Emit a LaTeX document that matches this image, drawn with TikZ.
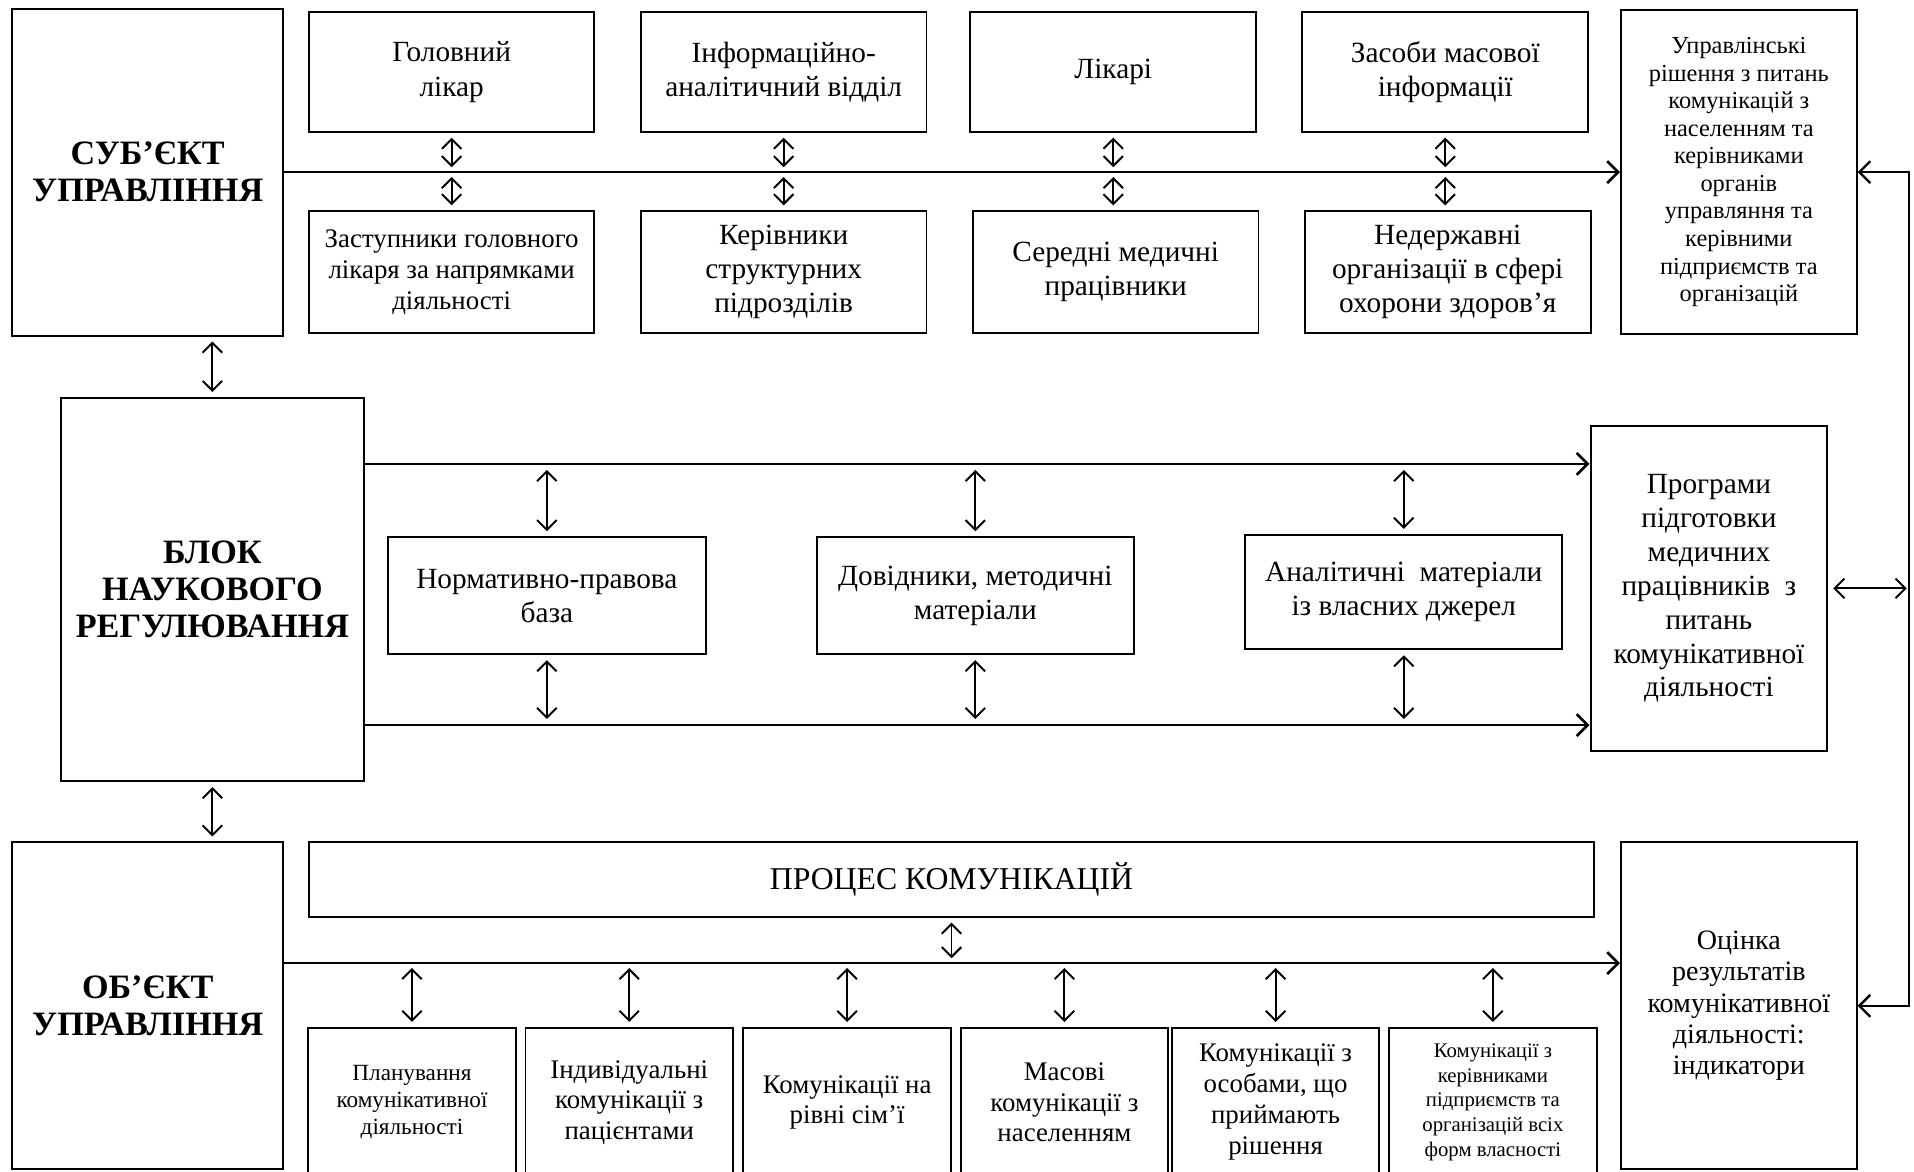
\documentclass[tikz,border=0pt]{standalone}
\usepackage{fontspec}
\setmainfont{Liberation Serif}
\usepackage{tikz}
\usetikzlibrary{arrows.meta}

\tikzset{
  blk/.style={draw, line width=0.8pt, inner sep=0pt, align=center,
              font=\fontsize{12}{14}\selectfont},
  bigtxt/.style={font=\fontsize{14}{15.2}\selectfont\bfseries},
  mainln/.style={line width=1.1pt, -{Straight Barb[length=4.5pt,width=9pt]}},
  dbl/.style={line width=0.8pt, {Straight Barb[length=4pt,width=8pt]}-{Straight Barb[length=4pt,width=8pt]},
              shorten <=2pt, shorten >=2pt},
}

\begin{document}
\begin{tikzpicture}[x=0.5pt,y=-0.5pt]
\clip (0,0) rectangle (1568,960);

% subject of management
\node[blk, bigtxt, minimum width=111pt, minimum height=134pt] (subj) at (121,141)
  {СУБ’ЄКТ\\УПРАВЛІННЯ};
\node[blk, minimum width=117pt, minimum height=49pt] (golov) at (370,59)
  {Головний\\лікар};
\node[blk, minimum width=117pt, minimum height=50pt,
      font=\fontsize{11}{12.7}\selectfont] (zast) at (370,223)
  {Заступники головного\\лікаря за напрямками\\діяльності};
\node[blk, minimum width=117pt, minimum height=49pt] (info) at (642,59)
  {Інформаційно-\\аналітичний відділ};
\node[blk, minimum width=117pt, minimum height=50pt] (kerivn) at (642,223)
  {Керівники\\структурних\\підрозділів};
\node[blk, minimum width=117pt, minimum height=49pt] (likari) at (912,59)
  {Лікарі};
\node[blk, minimum width=117pt, minimum height=50pt] (seredni) at (914,223)
  {Середні медичні\\працівники};
\node[blk, minimum width=117pt, minimum height=49pt] (zasoby) at (1184,59)
  {Засоби масової\\інформації};
\node[blk, minimum width=117pt, minimum height=50pt] (nederzh) at (1186,223)
  {Недержавні\\організації в сфері\\охорони здоров’я};
\node[blk, minimum width=96.5pt, minimum height=133pt,
      font=\fontsize{10}{11.3}\selectfont] (uprav) at (1424.5,141)
  {Управлінські\\рішення з питань\\комунікацій з\\населенням та\\керівниками\\органів\\управляння та\\керівними\\підприємств та\\організацій};

% scientific regulation block
\node[blk, bigtxt, minimum width=124pt, minimum height=157pt] (blok) at (174,483)
  {БЛОК\\НАУКОВОГО\\РЕГУЛЮВАННЯ};
\node[blk, minimum width=130pt, minimum height=48pt] (norm) at (448,488)
  {Нормативно-правова\\база};
\node[blk, minimum width=130pt, minimum height=48pt] (dovid) at (799,488)
  {Довідники, методичні\\матеріали};
\node[blk, minimum width=130pt, minimum height=47pt] (anal) at (1150,485)
  {Аналітичні~~матеріали\\із власних джерел};
\node[blk, minimum width=97pt, minimum height=133pt,
      font=\fontsize{12}{13.9}\selectfont] (progr) at (1400,482)
  {Програми\\підготовки\\медичних\\працівників~~з\\питань\\комунікативної\\діяльності};

% object of management
\node[blk, bigtxt, minimum width=111pt, minimum height=134pt] (obj) at (121,824)
  {ОБ’ЄКТ\\УПРАВЛІННЯ};
\node[blk, minimum width=526.5pt, minimum height=30.5pt,
      font=\fontsize{13}{15}\selectfont] (proces) at (779.5,720.5)
  {ПРОЦЕС КОМУНІКАЦІЙ};
\node[blk, minimum width=96.5pt, minimum height=134pt,
      font=\fontsize{11.5}{12.8}\selectfont] (ocinka) at (1424.5,824)
  {Оцінка\\результатів\\комунікативної\\діяльності:\\індикатори};
\node[blk, minimum width=85pt, minimum height=61pt,
      font=\fontsize{9.5}{11}\selectfont] (plan) at (337.5,903)
  {Планування\\комунікативної\\діяльності};
\node[blk, minimum width=85pt, minimum height=61pt,
      font=\fontsize{11}{12.5}\selectfont] (indiv) at (515.5,903)
  {Індивідуальні\\комунікації з\\пацієнтами};
\node[blk, minimum width=85pt, minimum height=61pt,
      font=\fontsize{11}{12.5}\selectfont] (simja) at (694,903)
  {Комунікації на\\рівні сім’ї};
\node[blk, minimum width=85pt, minimum height=61pt,
      font=\fontsize{11}{12.5}\selectfont] (masovi) at (872,903)
  {Масові\\комунікації з\\населенням};
\node[blk, minimum width=85pt, minimum height=61pt,
      font=\fontsize{11}{12.7}\selectfont] (osoby) at (1045,903)
  {Комунікації з\\особами, що\\приймають\\рішення};
\node[blk, minimum width=85pt, minimum height=61pt,
      font=\fontsize{8.5}{10.2}\selectfont] (pidpr) at (1223,903)
  {Комунікації з\\керівниками\\підприємств та\\організацій всіх\\форм власності};

% free ends of the long lines
\coordinate (b1) at (298,380);
\coordinate (b2) at (298,594);
\coordinate (o1) at (232,789);
\coordinate (rt) at (1564,141);

% main lines
\draw[mainln] (subj.east) -- (uprav.west);
\draw[mainln] (b1) -- (b1 -| progr.west);
\draw[mainln] (b2) -- (b2 -| progr.west);
\draw[mainln] (o1) -- (o1 -| ocinka.west);
\draw[mainln, line width=1pt, {Straight Barb[length=4.5pt,width=9pt]}-{Straight Barb[length=4.5pt,width=9pt]}]
  (uprav.east) -- (rt) |- (ocinka.east);

% links of the subject block
\draw[dbl] (golov.south) -- (golov.south |- subj.east);
\draw[dbl] (golov.south |- subj.east) -- (zast.north);
\draw[dbl] (info.south) -- (info.south |- subj.east);
\draw[dbl] (info.south |- subj.east) -- (kerivn.north);
\draw[dbl] (likari.south) -- (likari.south |- subj.east);
\draw[dbl] (likari.south |- subj.east) -- (likari.south |- seredni.north);
\draw[dbl] (zasoby.south) -- (zasoby.south |- subj.east);
\draw[dbl] (zasoby.south |- subj.east) -- (zasoby.south |- nederzh.north);

% links between the three blocks
\draw[dbl] (blok.north |- subj.south) -- (blok.north);
\draw[dbl] (blok.south) -- (blok.south |- obj.north);
\draw[dbl, shorten >=1pt] (progr.east) -- (progr.east -| rt);

% links of the regulation block
\draw[dbl, shorten <=2.5pt] (norm.north |- b1) -- (norm.north);
\draw[dbl, shorten >=2.5pt] (norm.south) -- (norm.south |- b2);
\draw[dbl, shorten <=2.5pt] (dovid.north |- b1) -- (dovid.north);
\draw[dbl, shorten >=2.5pt] (dovid.south) -- (dovid.south |- b2);
\draw[dbl, shorten <=2.5pt] (anal.north |- b1) -- (anal.north);
\draw[dbl, shorten >=2.5pt] (anal.south) -- (anal.south |- b2);

% links of the object block
\draw[dbl] (proces.south) -- (proces.south |- o1);
\draw[dbl] (plan.north |- o1) -- (plan.north);
\draw[dbl] (indiv.north |- o1) -- (indiv.north);
\draw[dbl] (simja.north |- o1) -- (simja.north);
\draw[dbl] (masovi.north |- o1) -- (masovi.north);
\draw[dbl] (osoby.north |- o1) -- (osoby.north);
\draw[dbl] (pidpr.north |- o1) -- (pidpr.north);
\end{tikzpicture}
\end{document}
